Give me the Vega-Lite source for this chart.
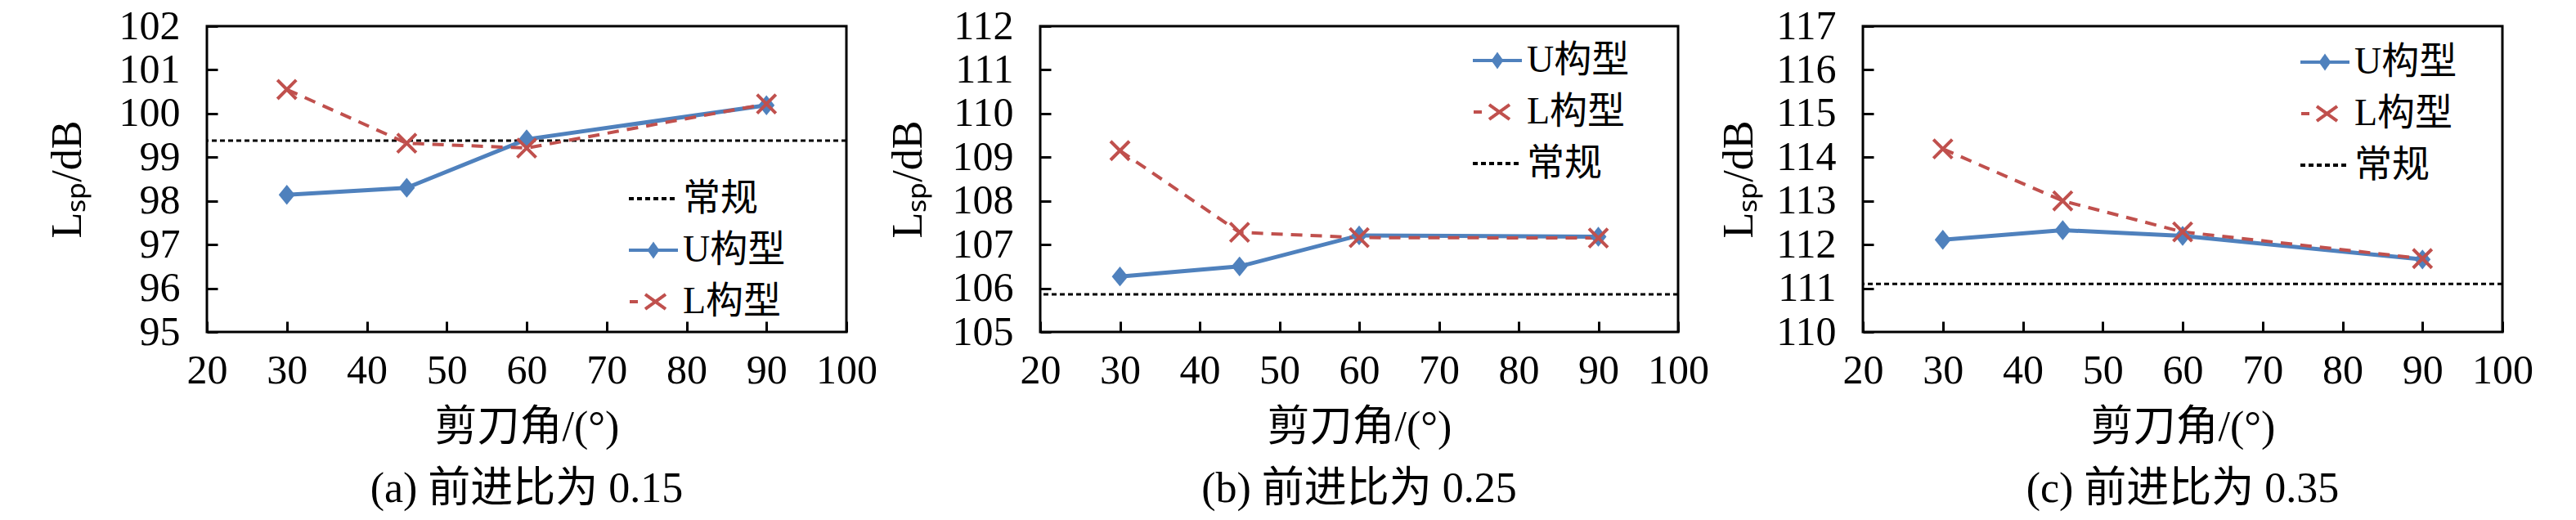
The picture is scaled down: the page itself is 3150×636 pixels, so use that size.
{
  "$schema": "https://vega.github.io/schema/vega-lite/v6.json",
  "background": "white",
  "padding": {"left": 54, "top": 5, "right": 5, "bottom": 5},
  "data": {
    "values": [
      {"panel": "a", "series": "U构型", "angle": 30, "L": 98.14},
      {"panel": "a", "series": "U构型", "angle": 45, "L": 98.3},
      {"panel": "a", "series": "U构型", "angle": 60, "L": 99.41},
      {"panel": "a", "series": "U构型", "angle": 90, "L": 100.19},
      {"panel": "a", "series": "L构型", "angle": 30, "L": 100.55},
      {"panel": "a", "series": "L构型", "angle": 45, "L": 99.32},
      {"panel": "a", "series": "L构型", "angle": 60, "L": 99.21},
      {"panel": "a", "series": "L构型", "angle": 90, "L": 100.22},
      {"panel": "a", "series": "常规", "L": 99.38},
      {"panel": "b", "series": "U构型", "angle": 30, "L": 106.27},
      {"panel": "b", "series": "U构型", "angle": 45, "L": 106.5},
      {"panel": "b", "series": "U构型", "angle": 60, "L": 107.21},
      {"panel": "b", "series": "U构型", "angle": 90, "L": 107.18},
      {"panel": "b", "series": "L构型", "angle": 30, "L": 109.15},
      {"panel": "b", "series": "L构型", "angle": 45, "L": 107.28},
      {"panel": "b", "series": "L构型", "angle": 60, "L": 107.16},
      {"panel": "b", "series": "L构型", "angle": 90, "L": 107.15},
      {"panel": "b", "series": "常规", "L": 105.86},
      {"panel": "c", "series": "U构型", "angle": 30, "L": 112.11},
      {"panel": "c", "series": "U构型", "angle": 45, "L": 112.33},
      {"panel": "c", "series": "U构型", "angle": 60, "L": 112.2},
      {"panel": "c", "series": "U构型", "angle": 90, "L": 111.66},
      {"panel": "c", "series": "L构型", "angle": 30, "L": 114.19},
      {"panel": "c", "series": "L构型", "angle": 45, "L": 113.0},
      {"panel": "c", "series": "L构型", "angle": 60, "L": 112.29},
      {"panel": "c", "series": "L构型", "angle": 90, "L": 111.68},
      {"panel": "c", "series": "常规", "L": 111.1}
    ]
  },
  "spacing": 8,
  "hconcat": [
    {
      "width": 782,
      "height": 374,
      "transform": [{"filter": "datum.panel === 'a'"}],
      "title": {"text": "(a) 前进比为 0.15"},
      "encoding": {
        "color": {
          "field": "series",
          "type": "nominal",
          "scale": {"domain": ["常规", "U构型", "L构型"], "range": ["black", "#4F81BD", "#C0504D"]},
          "legend": {"orient": "none", "legendX": 523, "legendY": 188}
        }
      },
      "layer": [
        {
          "transform": [{"filter": "datum.series === '常规'"}],
          "mark": {"type": "rule", "strokeWidth": 3},
          "encoding": {
            "y": {"field": "L", "type": "quantitative", "scale": {"domain": [95, 102], "nice": false, "zero": false}, "axis": {"title": "Lₛₚ/dB", "titlePadding": 36, "format": "d", "values": [95, 96, 97, 98, 99, 100, 101, 102]}},
            "strokeDash": {
              "field": "series",
              "type": "nominal",
              "scale": {"domain": ["常规", "U构型", "L构型"], "range": [[6, 4], [1, 0], [1, 0]]},
              "legend": {"orient": "none", "legendX": 523, "legendY": 188}
            }
          }
        },
        {
          "transform": [{"filter": "datum.series === 'U构型'"}],
          "mark": {"type": "line", "strokeWidth": 5},
          "encoding": {
            "x": {"field": "angle", "type": "quantitative", "scale": {"domain": [20, 100], "nice": false}, "axis": {"title": "剪刀角/(°)", "values": [20, 30, 40, 50, 60, 70, 80, 90, 100]}},
            "y": {"field": "L", "type": "quantitative"}
          }
        },
        {
          "transform": [{"filter": "datum.series === 'L构型'"}],
          "mark": {"type": "line", "strokeWidth": 4, "strokeDash": [14, 10]},
          "encoding": {
            "x": {"field": "angle", "type": "quantitative"},
            "y": {"field": "L", "type": "quantitative"}
          }
        },
        {
          "transform": [{"filter": "datum.series === 'U构型'"}],
          "mark": {"type": "point", "shape": "M0,-1.1L0.9,0L0,1.1L-0.9,0Z", "filled": true, "size": 490, "opacity": 1},
          "encoding": {
            "x": {"field": "angle", "type": "quantitative"},
            "y": {"field": "L", "type": "quantitative"}
          }
        },
        {
          "transform": [{"filter": "datum.series === 'L构型'"}],
          "mark": {"type": "point", "shape": "M-1,-1L1,1M-1,1L1,-1", "filled": false, "strokeWidth": 4, "size": 530, "opacity": 1},
          "encoding": {
            "x": {"field": "angle", "type": "quantitative"},
            "y": {"field": "L", "type": "quantitative"}
          }
        },
        {
          "transform": [{"filter": "datum.series === '图例'"}],
          "mark": {"type": "point", "filled": false, "opacity": 1},
          "encoding": {
            "shape": {
              "field": "series",
              "type": "nominal",
              "scale": {
                "domain": ["常规", "U构型", "L构型"],
                "range": ["M-1.5,0L1.5,0", "M-1.5,0L1.5,0M0,-0.35L0.25,0L0,0.35L-0.25,0ZM0,-0.2L0,0.2", "M-1.45,0L-0.95,0M-0.5,-0.45L0.75,0.45M-0.5,0.45L0.75,-0.45"]
              },
              "legend": {"orient": "none", "legendX": 523, "legendY": 188}
            }
          }
        }
      ]
    },
    {
      "width": 780,
      "height": 374,
      "transform": [{"filter": "datum.panel === 'b'"}],
      "title": {"text": "(b) 前进比为 0.25"},
      "encoding": {
        "color": {
          "field": "series",
          "type": "nominal",
          "scale": {"domain": ["U构型", "L构型", "常规"], "range": ["#4F81BD", "#C0504D", "black"]},
          "legend": {"orient": "none", "legendX": 536, "legendY": 19}
        }
      },
      "layer": [
        {
          "transform": [{"filter": "datum.series === '常规'"}],
          "mark": {"type": "rule", "strokeWidth": 3},
          "encoding": {
            "y": {"field": "L", "type": "quantitative", "scale": {"domain": [105, 112], "nice": false, "zero": false}, "axis": {"title": "Lₛₚ/dB", "titlePadding": 27, "format": "d", "values": [105, 106, 107, 108, 109, 110, 111, 112]}},
            "strokeDash": {
              "field": "series",
              "type": "nominal",
              "scale": {"domain": ["U构型", "L构型", "常规"], "range": [[1, 0], [1, 0], [6, 4]]},
              "legend": {"orient": "none", "legendX": 536, "legendY": 19}
            }
          }
        },
        {
          "transform": [{"filter": "datum.series === 'U构型'"}],
          "mark": {"type": "line", "strokeWidth": 5},
          "encoding": {
            "x": {"field": "angle", "type": "quantitative", "scale": {"domain": [20, 100], "nice": false}, "axis": {"title": "剪刀角/(°)", "values": [20, 30, 40, 50, 60, 70, 80, 90, 100]}},
            "y": {"field": "L", "type": "quantitative"}
          }
        },
        {
          "transform": [{"filter": "datum.series === 'L构型'"}],
          "mark": {"type": "line", "strokeWidth": 4, "strokeDash": [14, 10]},
          "encoding": {
            "x": {"field": "angle", "type": "quantitative"},
            "y": {"field": "L", "type": "quantitative"}
          }
        },
        {
          "transform": [{"filter": "datum.series === 'U构型'"}],
          "mark": {"type": "point", "shape": "M0,-1.1L0.9,0L0,1.1L-0.9,0Z", "filled": true, "size": 490, "opacity": 1},
          "encoding": {
            "x": {"field": "angle", "type": "quantitative"},
            "y": {"field": "L", "type": "quantitative"}
          }
        },
        {
          "transform": [{"filter": "datum.series === 'L构型'"}],
          "mark": {"type": "point", "shape": "M-1,-1L1,1M-1,1L1,-1", "filled": false, "strokeWidth": 4, "size": 530, "opacity": 1},
          "encoding": {
            "x": {"field": "angle", "type": "quantitative"},
            "y": {"field": "L", "type": "quantitative"}
          }
        },
        {
          "transform": [{"filter": "datum.series === '图例'"}],
          "mark": {"type": "point", "filled": false, "opacity": 1},
          "encoding": {
            "shape": {
              "field": "series",
              "type": "nominal",
              "scale": {
                "domain": ["U构型", "L构型", "常规"],
                "range": ["M-1.5,0L1.5,0M0,-0.35L0.25,0L0,0.35L-0.25,0ZM0,-0.2L0,0.2", "M-1.45,0L-0.95,0M-0.5,-0.45L0.75,0.45M-0.5,0.45L0.75,-0.45", "M-1.5,0L1.5,0"]
              },
              "legend": {"orient": "none", "legendX": 536, "legendY": 19}
            }
          }
        }
      ]
    },
    {
      "width": 782,
      "height": 374,
      "transform": [{"filter": "datum.panel === 'c'"}],
      "title": {"text": "(c) 前进比为 0.35"},
      "encoding": {
        "color": {
          "field": "series",
          "type": "nominal",
          "scale": {"domain": ["U构型", "L构型", "常规"], "range": ["#4F81BD", "#C0504D", "black"]},
          "legend": {"orient": "none", "legendX": 542, "legendY": 21}
        }
      },
      "layer": [
        {
          "transform": [{"filter": "datum.series === '常规'"}],
          "mark": {"type": "rule", "strokeWidth": 3},
          "encoding": {
            "y": {"field": "L", "type": "quantitative", "scale": {"domain": [110, 117], "nice": false, "zero": false}, "axis": {"title": "Lₛₚ/dB", "titlePadding": 18, "format": "d", "values": [110, 111, 112, 113, 114, 115, 116, 117]}},
            "strokeDash": {
              "field": "series",
              "type": "nominal",
              "scale": {"domain": ["U构型", "L构型", "常规"], "range": [[1, 0], [1, 0], [6, 4]]},
              "legend": {"orient": "none", "legendX": 542, "legendY": 21}
            }
          }
        },
        {
          "transform": [{"filter": "datum.series === 'U构型'"}],
          "mark": {"type": "line", "strokeWidth": 5},
          "encoding": {
            "x": {"field": "angle", "type": "quantitative", "scale": {"domain": [20, 100], "nice": false}, "axis": {"title": "剪刀角/(°)", "values": [20, 30, 40, 50, 60, 70, 80, 90, 100]}},
            "y": {"field": "L", "type": "quantitative"}
          }
        },
        {
          "transform": [{"filter": "datum.series === 'L构型'"}],
          "mark": {"type": "line", "strokeWidth": 4, "strokeDash": [14, 10]},
          "encoding": {
            "x": {"field": "angle", "type": "quantitative"},
            "y": {"field": "L", "type": "quantitative"}
          }
        },
        {
          "transform": [{"filter": "datum.series === 'U构型'"}],
          "mark": {"type": "point", "shape": "M0,-1.1L0.9,0L0,1.1L-0.9,0Z", "filled": true, "size": 490, "opacity": 1},
          "encoding": {
            "x": {"field": "angle", "type": "quantitative"},
            "y": {"field": "L", "type": "quantitative"}
          }
        },
        {
          "transform": [{"filter": "datum.series === 'L构型'"}],
          "mark": {"type": "point", "shape": "M-1,-1L1,1M-1,1L1,-1", "filled": false, "strokeWidth": 4, "size": 530, "opacity": 1},
          "encoding": {
            "x": {"field": "angle", "type": "quantitative"},
            "y": {"field": "L", "type": "quantitative"}
          }
        },
        {
          "transform": [{"filter": "datum.series === '图例'"}],
          "mark": {"type": "point", "filled": false, "opacity": 1},
          "encoding": {
            "shape": {
              "field": "series",
              "type": "nominal",
              "scale": {
                "domain": ["U构型", "L构型", "常规"],
                "range": ["M-1.5,0L1.5,0M0,-0.35L0.25,0L0,0.35L-0.25,0ZM0,-0.2L0,0.2", "M-1.45,0L-0.95,0M-0.5,-0.45L0.75,0.45M-0.5,0.45L0.75,-0.45", "M-1.5,0L1.5,0"]
              },
              "legend": {"orient": "none", "legendX": 542, "legendY": 21}
            }
          }
        }
      ]
    }
  ],
  "resolve": {
    "scale": {"color": "independent", "shape": "independent", "strokeDash": "independent"},
    "legend": {"color": "independent", "shape": "independent", "strokeDash": "independent"}
  },
  "config": {
    "font": "Liberation Serif, Times New Roman, Noto Sans CJK SC, serif",
    "view": {"stroke": "black", "strokeWidth": 3},
    "axis": {
      "grid": false,
      "domain": false,
      "ticks": true,
      "tickColor": "black",
      "tickWidth": 3,
      "tickSize": -13,
      "labelFont": "Liberation Serif, Times New Roman, serif",
      "labelFontSize": 50,
      "labelColor": "black",
      "labelFlush": false,
      "labelOverlap": false,
      "titleFont": "Liberation Serif, Times New Roman, Noto Sans CJK SC, serif",
      "titleFontSize": 52,
      "titleFontWeight": "normal",
      "titleColor": "black"
    },
    "axisX": {"labelPadding": 35, "titlePadding": 19},
    "axisY": {"labelPadding": 46},
    "legend": {
      "title": null,
      "labelFont": "Liberation Serif, Times New Roman, Noto Sans CJK SC, serif",
      "labelFontSize": 46,
      "labelColor": "black",
      "labelOffset": 13,
      "symbolSize": 1600,
      "symbolStrokeWidth": 4,
      "rowPadding": 17,
      "padding": 0
    },
    "title": {
      "orient": "bottom",
      "font": "Liberation Serif, Times New Roman, Noto Sans CJK SC, serif",
      "fontSize": 52,
      "fontWeight": "normal",
      "color": "black",
      "offset": 25
    }
  }
}
